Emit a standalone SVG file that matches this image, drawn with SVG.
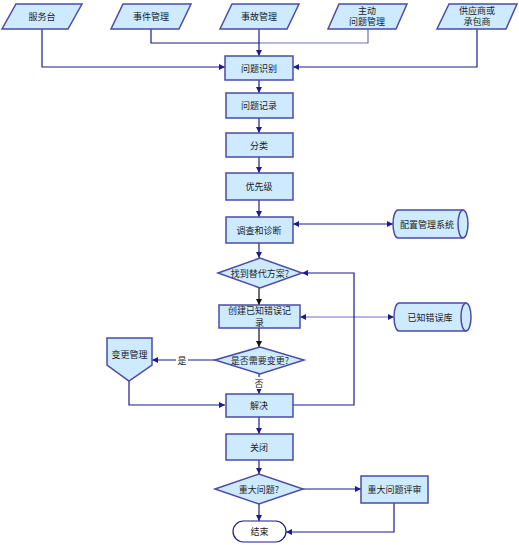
<svg xmlns="http://www.w3.org/2000/svg" width="519" height="545" viewBox="0 0 519 545">
<style>
.s{fill:#cdeaff;stroke:#4b4ba8;stroke-width:1.5}
.t{font-family:"Noto Sans CJK SC","Liberation Sans",sans-serif;font-size:9px;fill:#222;text-anchor:middle;dominant-baseline:central}
.c{fill:none;stroke:#1c1c8c;stroke-width:1.2}
.l{fill:none;stroke:#7070b8;stroke-width:1.2}
.k{fill:none;stroke:#111;stroke-width:1.2}
</style>
<defs>
<marker id="a" viewBox="0 0 8 8" refX="8" refY="4" markerWidth="6" markerHeight="6" orient="auto-start-reverse" markerUnits="userSpaceOnUse"><path d="M0,0L8,4L0,8z" fill="#1c1c8c"/></marker>
<marker id="b" viewBox="0 0 8 8" refX="8" refY="4" markerWidth="6" markerHeight="6" orient="auto" markerUnits="userSpaceOnUse"><path d="M0,0L8,4L0,8z" fill="#111"/></marker>
</defs>
<g id="connectors">
<path class="c" d="M42,29V67H225" marker-end="url(#a)"/>
<path class="c" d="M151,29V43H259"/>
<path class="l" d="M368,29V43H259"/>
<path class="c" d="M259,29V56" marker-end="url(#a)"/>
<path class="c" d="M477,29V67H293" marker-end="url(#a)"/>
<path class="c" d="M259,80V93" marker-end="url(#a)"/>
<path class="c" d="M259,118V133" marker-end="url(#a)"/>
<path class="c" d="M259,157V173" marker-end="url(#a)"/>
<path class="c" d="M259,200V217" marker-end="url(#a)"/>
<path class="c" d="M293,224H393" marker-start="url(#a)" marker-end="url(#a)"/>
<path class="c" d="M259,243V258" marker-end="url(#a)"/>
<path class="k" d="M259,288V305" marker-end="url(#b)"/>
<path class="l" d="M300,317H394" marker-start="url(#a)" marker-end="url(#a)"/>
<path class="k" d="M259,328V347" marker-end="url(#b)"/>
<path class="c" d="M215,360H152" marker-end="url(#a)"/>
<path class="c" d="M259,374V394" marker-end="url(#a)"/>
<path class="c" d="M129,381V405H225" marker-end="url(#a)"/>
<path class="c" d="M293,405H354V273H302" stroke-width="2" marker-end="url(#a)"/>
<path class="c" d="M259,417V434" marker-end="url(#a)"/>
<path class="c" d="M259,460V474" marker-end="url(#a)"/>
<path class="c" d="M303,489H361" marker-end="url(#a)"/>
<path class="c" d="M259,504V521" marker-end="url(#a)"/>
<path class="c" d="M394,503V532H286" marker-end="url(#a)"/>
<rect x="176" y="354" width="12" height="12" fill="#fff"/>
<text class="t" x="182" y="360">是</text>
<rect x="253" y="377" width="12" height="12" fill="#fff"/>
<text class="t" x="259" y="383">否</text>
</g>
<g id="n1"><polygon class="s" points="16,4 82,4 68,29 2,29"/><text class="t" x="42" y="16.5">服务台</text></g>
<g id="n2"><polygon class="s" points="123,4 191,4 179,29 111,29"/><text class="t" x="151" y="16.5">事件管理</text></g>
<g id="n3"><polygon class="s" points="232,4 299,4 287,29 220,29"/><text class="t" x="259" y="16.5">事故管理</text></g>
<g id="n4"><polygon class="s" points="339,4 407,4 396,29 328,29"/><text class="t" x="367" y="10">主动</text><text class="t" x="367" y="21.5">问题管理</text></g>
<g id="n5"><polygon class="s" points="449,4 517,4 506,29 437,29"/><text class="t" x="477" y="10">供应商或</text><text class="t" x="477" y="21.5">承包商</text></g>
<g id="n6"><rect class="s" x="225" y="56" width="68" height="24"/><text class="t" x="259" y="68">问题识别</text></g>
<g id="n7"><rect class="s" x="226" y="93" width="67" height="25"/><text class="t" x="259" y="105.5">问题记录</text></g>
<g id="n8"><rect class="s" x="226" y="133" width="67" height="24"/><text class="t" x="259" y="145">分类</text></g>
<g id="n9"><rect class="s" x="226" y="173" width="67" height="27"/><text class="t" x="259" y="186.5">优先级</text></g>
<g id="n10"><rect class="s" x="226" y="217" width="67" height="26"/><text class="t" x="259" y="230">调查和诊断</text></g>
<g id="n11"><path class="s" d="M398,210H463A5,14 0 0 1 463,238H398A5,14 0 0 1 398,210Z"/><path class="s" fill="none" d="M463,210A5,14 0 0 0 463,238"/><text class="t" x="427" y="224">配置管理系统</text></g>
<g id="n12"><polygon class="s" points="218,273 260,258 302,273 260,288"/><text class="t" x="260" y="273">找到替代方案?</text></g>
<g id="n13"><rect class="s" x="219" y="305" width="81" height="23"/><text class="t" x="259.5" y="310.5">创建已知错误记</text><text class="t" x="259.5" y="322.5">录</text></g>
<g id="n14"><path class="s" d="M399,303H466A5,14 0 0 1 466,331H399A5,14 0 0 1 399,303Z"/><path class="s" fill="none" d="M466,303A5,14 0 0 0 466,331"/><text class="t" x="430" y="317">已知错误库</text></g>
<g id="n15"><polygon class="s" points="215,360 260,347 304,360 260,374"/><text class="t" x="260" y="360">是否需要变更?</text></g>
<g id="n16"><polygon class="s" points="107,338 152,338 152,365 129,381 107,365"/><text class="t" x="129.5" y="354">变更管理</text></g>
<g id="n17"><rect class="s" x="226" y="394" width="67" height="23"/><text class="t" x="259" y="405.5">解决</text></g>
<g id="n18"><rect class="s" x="226" y="434" width="67" height="26"/><text class="t" x="259" y="447">关闭</text></g>
<g id="n19"><polygon class="s" points="215,489 259,474 303,489 259,504"/><text class="t" x="259" y="489">重大问题?</text></g>
<g id="n20"><rect class="s" x="361" y="476" width="67" height="27"/><text class="t" x="394.5" y="489.5">重大问题评审</text></g>
<g id="n21"><rect x="233" y="521" width="53" height="21" rx="10.5" fill="#fff" stroke="#1c1c8c" stroke-width="1.2"/><text class="t" x="259.5" y="531.5">结束</text></g>
</svg>
